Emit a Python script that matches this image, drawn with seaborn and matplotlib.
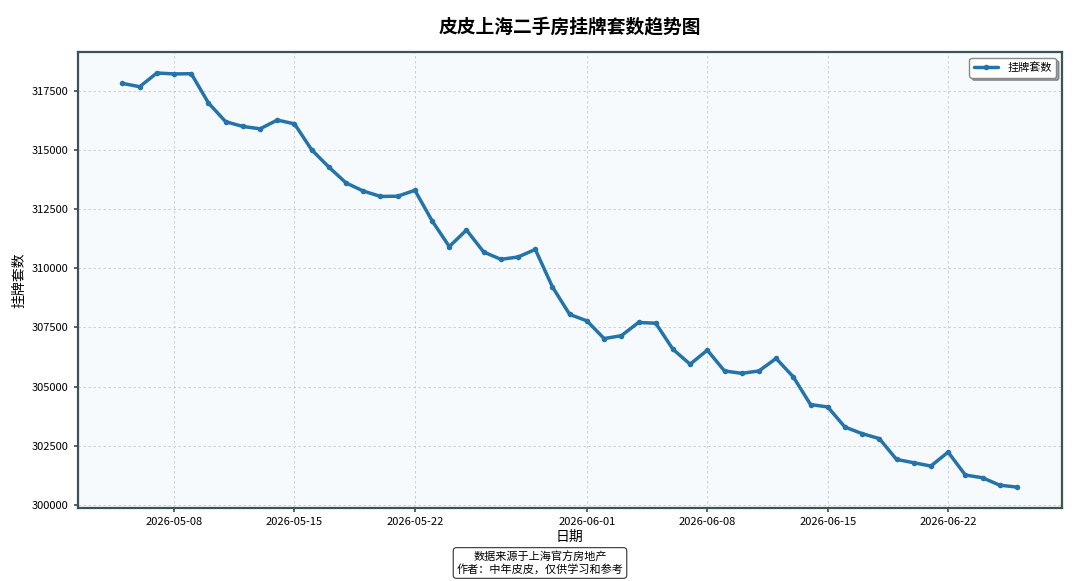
"""皮皮上海二手房挂牌套数趋势图 — recreated with seaborn."""

import matplotlib
matplotlib.use("Agg")

import matplotlib.pyplot as plt
import pandas as pd
import seaborn as sns

# Daily listing counts, 2026-05-05 .. 2026-06-26
start_date = "2026-05-05"
listing_counts = [
    317820, 317680, 318260, 318220, 318230, 316990, 316200, 316000, 315900,
    316270, 316110, 315010, 314280, 313610, 313270, 313040, 313050, 313300,
    312010, 310920, 311620, 310690, 310380, 310480, 310800, 309210, 308050,
    307780, 307030, 307150, 307710, 307680, 306580, 305945, 306540, 305660,
    305560, 305660, 306190, 305410, 304240, 304140, 303290, 303010, 302800,
    301920, 301780, 301640, 302230, 301260, 301145, 300830, 300750,
]
dates = pd.date_range(start_date, periods=len(listing_counts), freq="D")

title = "皮皮上海二手房挂牌套数趋势图"
series_label = "挂牌套数"
x_label = "日期"
y_label = "挂牌套数"
footer = "数据来源于上海官方房地产\n作者：中年皮皮，仅供学习和参考"

df = pd.DataFrame({"date": dates, "count": listing_counts})

sns.set_theme(style="whitegrid")
plt.rcParams["font.family"] = ["Noto Sans CJK SC", "DejaVu Sans"]
plt.rcParams["axes.unicode_minus"] = False
plt.rcParams["text.color"] = "black"
plt.rcParams["axes.labelcolor"] = "black"
plt.rcParams["xtick.color"] = "black"
plt.rcParams["ytick.color"] = "black"

fig = plt.figure(figsize=(10.8, 5.81), dpi=100)
ax = fig.add_axes([0.072, 0.126, 0.911, 0.784])
ax.set_facecolor("#f7fafc")

sns.lineplot(
    data=df, x="date", y="count", ax=ax,
    color="#2474aa", linewidth=2.5, marker="o", markersize=4,
    markeredgewidth=0, label=series_label,
)

ax.grid(True, linestyle=(0, (3, 3)), color="#c8c8c8", linewidth=0.6)
for spine in ax.spines.values():
    spine.set_color("#3d5552")
    spine.set_linewidth(1.6)
ax.tick_params(axis="both", which="major", labelsize=8, length=3,
               color="#3d5552", direction="out", bottom=True, left=True)

ax.set_title(title, fontsize=13.5, fontweight="bold", pad=14, color="black")
ax.set_xlabel(x_label, fontsize=10, labelpad=2)
ax.set_ylabel(y_label, fontsize=10, labelpad=4)
ax.ticklabel_format(axis="y", style="plain", useOffset=False)

leg = ax.legend(loc="upper right", fontsize=8, shadow=True, frameon=True,
                fancybox=True, borderpad=0.4, handlelength=2.2)
leg.get_frame().set_edgecolor("#888888")
leg.get_frame().set_facecolor("white")

fig.text(0.5, 0.031, footer, ha="center", va="center", fontsize=8,
         linespacing=1.25,
         bbox=dict(boxstyle="round,pad=0.3", facecolor="white",
                   edgecolor="#333333", linewidth=0.8))

fig.savefig("out.png", dpi=100, facecolor="white")
plt.close(fig)
